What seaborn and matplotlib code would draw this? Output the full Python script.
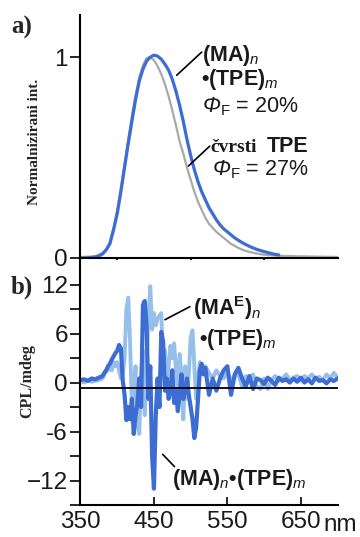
import numpy as np
import pandas as pd
import matplotlib
matplotlib.use('Agg')
import matplotlib.pyplot as plt
import seaborn as sns

# emission spectra (normalised)
wl_blue = [350, 360, 370, 375, 380, 385, 390, 395, 400, 405, 410, 415, 420, 425, 430, 435, 440, 445,
           450, 455, 460, 465, 470, 475, 480, 485, 490, 495, 500, 505, 510, 515, 520, 525, 530, 535,
           540, 545, 550, 555, 560, 565, 570, 575, 580, 585, 590, 595, 600, 605, 610, 615, 620]
em_blue = [0, 0, 0.005, 0.01, 0.02, 0.04, 0.07, 0.14, 0.22, 0.33, 0.45, 0.57, 0.68, 0.79, 0.88, 0.94, 0.98, 1.0,
           1.01, 1.005, 0.99, 0.965, 0.935, 0.89, 0.83, 0.76, 0.68, 0.59, 0.51, 0.44, 0.38, 0.33, 0.29, 0.25, 0.22, 0.19,
           0.165, 0.145, 0.13, 0.115, 0.1, 0.088, 0.077, 0.067, 0.058, 0.05, 0.043, 0.037, 0.032, 0.027, 0.022, 0.018, 0.015]

wl_gray = [350, 370, 380, 385, 390, 395, 400, 405, 410, 415, 420, 425, 430, 435, 440, 445, 450, 455,
           460, 465, 470, 475, 480, 485, 490, 495, 500, 505, 510, 515, 520, 525, 530, 535, 540, 545,
           550, 555, 560, 565, 570, 575, 580, 590, 600, 620, 650, 700]
em_gray = [0.005, 0.008, 0.025, 0.045, 0.08, 0.15, 0.24, 0.35, 0.47, 0.59, 0.71, 0.81, 0.9, 0.96, 0.995, 1.0, 0.985, 0.955,
           0.915, 0.865, 0.805, 0.735, 0.66, 0.58, 0.52, 0.45, 0.39, 0.33, 0.28, 0.24, 0.2, 0.17, 0.15, 0.13, 0.115, 0.1,
           0.085, 0.07, 0.06, 0.05, 0.042, 0.035, 0.03, 0.022, 0.016, 0.011, 0.008, 0.005]

# CPL spectra
wl_cpl = [350, 355, 360, 365, 370, 375, 380, 382.5, 385, 387.5, 390, 392.5, 395, 397.5, 400, 402.5, 405, 407.5,
          410, 412.5, 415, 417.5, 420, 422.5, 425, 427.5, 430, 432.5, 435, 437.5, 440, 442.5, 445, 447.5,
          450, 452.5, 455, 457.5, 460, 462.5, 465, 467.5, 470, 472.5, 475, 477.5, 480, 482.5, 485, 487.5,
          490, 492.5, 495, 497.5, 500, 502.5, 505, 507.5, 510, 512.5, 515, 517.5, 520, 525, 530, 535,
          540, 545, 550, 555, 560, 565, 570, 575, 580, 585, 590, 595, 600, 605, 610, 615, 620, 625,
          630, 635, 640, 645, 650, 655, 660, 665, 670, 675, 680, 685, 690, 695, 700]
cpl_ma = [0.3, 0.4, 0.2, 0.5, 0.4, 0.6, 0.8, 1.2, 1.5, 2.0, 2.3, 2.8, 3.2, 3.6, 3.9, 4.6, 4.2, 0.3,
          -1.5, -4.6, -3.0, -4.5, -2.0, -6.3, -4.0, -2.5, 0.5, -3.0, 9.5, 10.0, 7.0, -2.0, 2.0, -9.0,
          -13.0, -4.0, 0.5, -3.0, 6.2, 5.0, -1.0, 0.5, -2.0, -1.0, 1.5, -2.5, -1.0, -3.5, -1.5, 1.0,
          -2.0, -1.0, 0.5, -1.5, -3.0, -4.5, -6.8, -5.5, -2.0, 1.5, 2.3, 1.0, 1.8, -1.5, 0.5, -1.0,
          0.5, 1.5, 2.0, -1.5, 1.0, 1.8, 0.5, -0.5, 0.8, -0.8, 0.5, 0.3, -0.2, 0.6, 0.2, -0.3, 0.6, 0.2,
          0.4, 0.0, 0.5, 0.1, 0.6, 0.0, 0.4, -0.1, 0.6, 0.2, 0.3, -0.1, 0.4, 0.2, 0.5]
cpl_mae = [0.2, 0.0, 0.3, 0.1, 0.2, 0.3, 0.5, 1.0, 1.5, 1.5, 2.0, 1.5, 2.5, 2.0, 2.5, 1.5, 0.5, 1.0,
           3.0, 9.0, 10.4, 5.0, -3.0, -1.0, 2.0, -5.0, -6.3, 1.0, 4.0, -4.0, 2.0, 8.0, 11.8, 6.5,
           8.5, 7.0, 7.8, 8.2, 8.5, 3.0, 4.0, -1.0, 2.0, 4.5, 3.0, 4.8, 1.5, -1.0, 3.5, 1.0,
           -4.5, 2.0, -2.0, 1.0, 5.5, 6.4, 2.0, -2.0, 0.5, 2.5, 1.0, 1.5, 2.0, 1.2, 0.5, 1.5,
           0.8, 0.5, 1.2, 0.3, 0.8, 1.0, -0.5, 0.8, 0.5, 1.0, -0.5, -0.8, 0.5, -0.8, 0.3, 0.8, 0.2, 0.5,
           1.0, 0.3, 0.6, 0.8, 0.2, 0.8, 0.5, 1.0, 0.4, 0.7, 0.3, 1.0, 0.5, 1.2, 0.6]

df_em_b = pd.DataFrame({'nm': wl_blue, 'I': em_blue})
df_em_g = pd.DataFrame({'nm': wl_gray, 'I': em_gray})
df_cpl = pd.DataFrame({'nm': wl_cpl, 'MA': cpl_ma, 'MAE': cpl_mae})

sns.set_style('ticks')
plt.rcParams['font.family'] = ['Liberation Sans', 'DejaVu Sans']
plt.rcParams['mathtext.fontset'] = 'custom'
plt.rcParams['mathtext.rm'] = 'Liberation Sans'
plt.rcParams['mathtext.it'] = 'Liberation Sans:italic'
plt.rcParams['mathtext.bf'] = 'Liberation Sans:bold'

BLUE = '#3d6dd2'
LIGHT = '#96bfe9'
GRAY = '#a9a9a9'
TXT = '#1a1a1a'

fig = plt.figure(figsize=(3.6, 5.37), dpi=100)
ax1 = fig.add_axes([0.2236, 0.5196, 0.714, 0.4525])
ax2 = fig.add_axes([0.2236, 0.0596, 0.714, 0.456])

# ---- panel a
sns.lineplot(data=df_em_g, x='nm', y='I', ax=ax1, color=GRAY, lw=1.6, sort=False)
sns.lineplot(data=df_em_b, x='nm', y='I', ax=ax1, color=BLUE, lw=2.3, sort=False)
ax1.set_xlim(350, 700)
ax1.set_ylim(0, 1.21)
ax1.set_xticks([400, 500, 600])
ax1.set_xticklabels([])
ax1.set_yticks([0, 1])
ax1.set_yticklabels(['0', '1'])
ax1.tick_params(axis='x', direction='out', length=6, width=1.4, color='black')
ax1.tick_params(axis='y', direction='out', length=7, width=1.4, labelsize=17.5, pad=2, labelcolor=TXT)
ax1.set_xlabel('')
ax1.set_ylabel('')

# ---- panel b
sns.lineplot(data=df_cpl, x='nm', y='MAE', ax=ax2, color=LIGHT, lw=2.8, sort=False)
sns.lineplot(data=df_cpl, x='nm', y='MA', ax=ax2, color=BLUE, lw=3.0, sort=False)
ax2.axhline(-0.65, color='black', lw=1.3, zorder=5)
ax2.set_xlim(350, 700)
ax2.set_ylim(-15, 15)
ax2.set_xticks([350, 450, 550, 650])
ax2.set_xticklabels(['350', '450', '550', '650'])
ax2.set_yticks([-12, -6, 0, 6, 12])
ax2.set_yticklabels(['\u221212', '-6', '0', '6', '12'])
ax2.set_yticks([-15, -9, -3, 3, 9], minor=True)
ax2.tick_params(axis='x', direction='in', length=6, width=1.4, labelsize=17.5, pad=4, labelcolor=TXT)
ax2.tick_params(axis='y', which='both', direction='out', length=7, width=1.4, labelsize=17.5, pad=2,
                labelcolor=TXT)
ax2.set_xlabel('')
ax2.set_ylabel('')
ax2.text(0.945, -0.035, 'nm', transform=ax2.transAxes, ha='left', va='top', fontsize=17.5, color=TXT)

for ax in (ax1, ax2):
    sns.despine(ax=ax)
    for s in ('left', 'bottom'):
        ax.spines[s].set_linewidth(1.5)
        ax.spines[s].set_color('black')

# annotations panel a
FS = 15.5
kw = dict(fontsize=FS, color=TXT, ha='left', va='baseline')


def phi_label(ax, x, y, txt):
    ax.text(x, y, 'Φ', style='italic', **kw)
    ax.annotate(r'$_{\mathrm{F}}$ = ' + txt, xy=(x, y), xytext=(12.8, 0), textcoords='offset points',
                fontsize=FS, color=TXT, ha='left', va='baseline')


ax1.text(516, 0.98, r'(MA)$_{\mathit{n}}$', fontweight='bold', **kw)
ax1.text(514, 0.862, r'•(TPE)$_{\mathit{m}}$', fontweight='bold', **kw)
phi_label(ax1, 516, 0.726, '20%')
ax1.text(527, 0.527, 'čvrsti', family='Liberation Serif', fontweight='bold', fontsize=14,
         color=TXT, ha='left', va='baseline')
ax1.text(603, 0.527, 'TPE', fontweight='bold', **kw)
phi_label(ax1, 530, 0.413, '27%')
ax1.plot([481, 515], [0.91, 1.025], color='black', lw=1.2)
ax1.plot([497, 526], [0.458, 0.557], color='black', lw=1.2)

# annotations panel b
ax2.text(503, 8.3, r'(MA$^{\mathbf{E}}$)$_{\mathit{n}}$', fontweight='bold', **kw)
ax2.text(511, 4.6, r'•(TPE)$_{\mathit{m}}$', fontweight='bold', **kw)
ax2.text(475, -12.5, r'(MA)$_{\mathit{n}}$•(TPE)$_{\mathit{m}}$', fontweight='bold', **kw)
ax2.plot([465, 499], [7.7, 9.3], color='black', lw=1.2)
ax2.plot([462, 478], [-8.8, -10.3], color='black', lw=1.2)

# panel labels and axis titles
fig.text(22 / 360, 1 - 27 / 537, 'a)', family='Liberation Serif', fontweight='bold', fontsize=18,
         ha='center', va='center')
fig.text(22 / 360, 1 - 287 / 537, 'b)', family='Liberation Serif', fontweight='bold', fontsize=18,
         ha='center', va='center')
fig.text(35 / 360, 1 - 142 / 537, 'Normalnizirani int.', family='Liberation Serif', fontweight='bold',
         fontsize=11, rotation=90, ha='center', va='center')
fig.text(27 / 360, 1 - 381 / 537, 'CPL/mdeg', family='Liberation Serif', fontweight='bold',
         fontsize=11.5, rotation=90, ha='center', va='center')

fig.savefig('out.png', dpi=100)
